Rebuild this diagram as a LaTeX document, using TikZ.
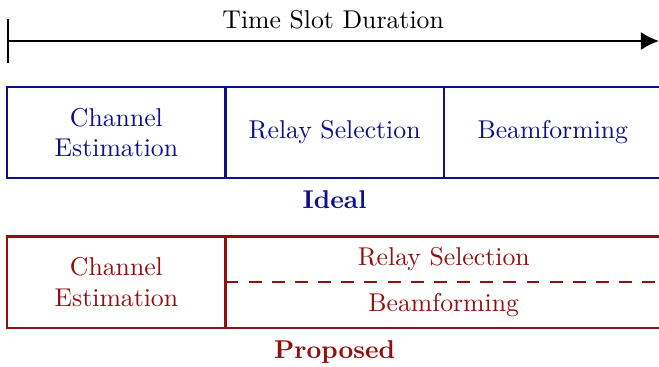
\documentclass[tikz,border=0pt]{standalone}
\usepackage{tikz}
\usetikzlibrary{arrows.meta,positioning}
\definecolor{idealblue}{RGB}{15,15,140}
\definecolor{propred}{RGB}{145,15,15}
\tikzset{
  ibox/.style={draw=idealblue,text=idealblue,line width=0.8pt,minimum width=2.98cm,minimum height=1.25cm,inner sep=0pt,outer sep=0pt,align=center},
  pbox/.style={draw=propred,text=propred,line width=0.8pt,minimum width=2.98cm,minimum height=1.25cm,inner sep=0pt,outer sep=0pt,align=center},
  ptext/.style={text=propred,minimum width=5.96cm,minimum height=0.625cm,inner sep=0pt,outer sep=0pt}
}
\begin{document}
\begin{tikzpicture}
      \useasboundingbox (0,0) rectangle (9,-5);
      % time axis
      \coordinate (tstart) at (0.1,-0.56);
      \coordinate (tend) at (9,-0.56);
      \draw[line width=0.8pt,{Bar[width=17pt]}-{Latex[length=7pt,width=7pt]}] (tstart) -- (tend) node[midway,above=1pt] (tlabel) {Time Slot Duration};
      % ideal
      \node[ibox] (iest) at (1.59,-1.81) {Channel\\Estimation};
      \node[ibox,right=0pt of iest] (isel) {Relay Selection};
      \node[ibox,right=0pt of isel] (ibf) {Beamforming};
      \node[text=idealblue,font=\bfseries,below=0.05cm of isel] (ideal) {Ideal};
      % proposed
      \node[pbox] (pest) at (1.59,-3.855) {Channel\\Estimation};
      \node[ptext,anchor=south west] (psel) at (pest.east) {Relay Selection};
      \node[ptext,anchor=north west] (pbf) at (pest.east) {Beamforming};
      \draw[propred,line width=0.8pt] (pest.north east) -- ++(6.2,0);
      \draw[propred,line width=0.8pt] (pest.south east) -- ++(6.2,0);
      \draw[propred,line width=0.8pt,dash pattern=on 5pt off 4pt] (pest.east) -- ++(6.2,0);
      \node[text=propred,font=\bfseries,below=0.05cm of isel.south |- pest.south] (prop) {Proposed};
\end{tikzpicture}
\end{document}
